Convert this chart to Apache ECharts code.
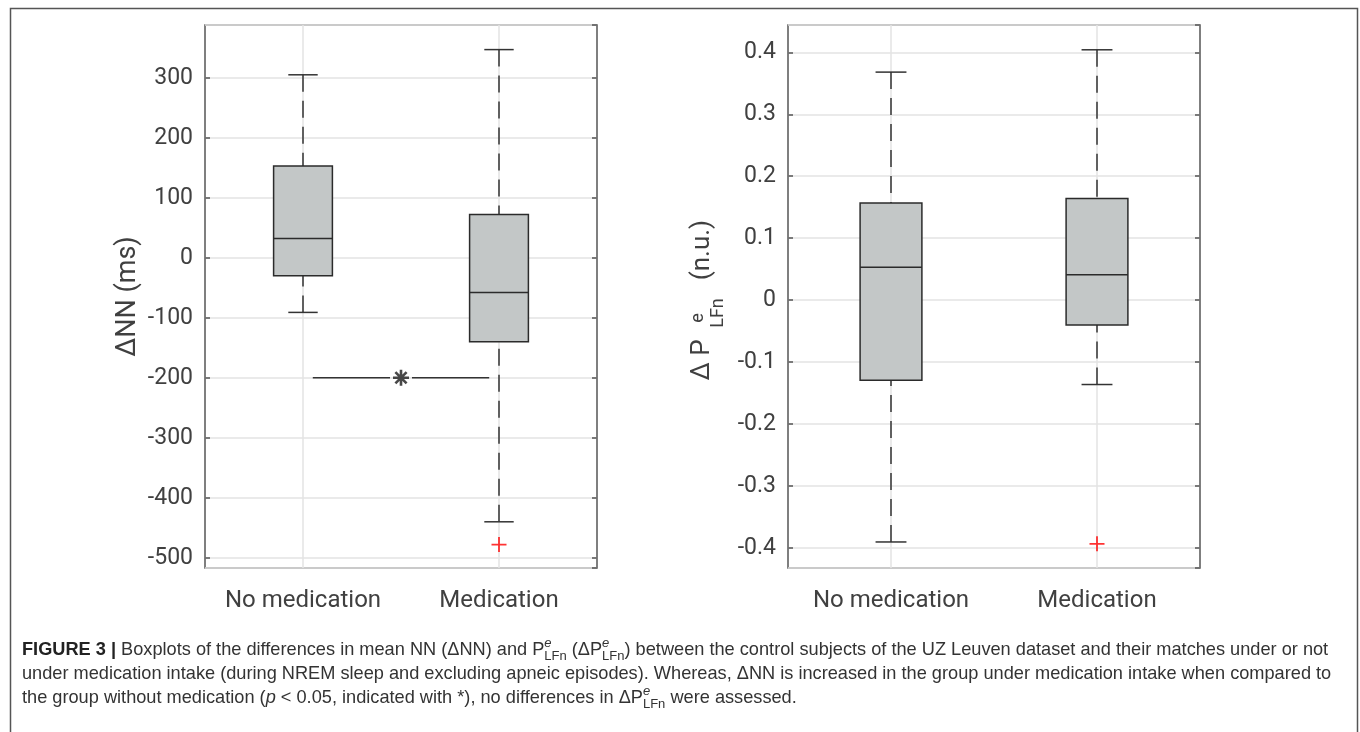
<!DOCTYPE html>
<html lang="en">
<head>
<meta charset="UTF-8">
<title>Figure 3 boxplots</title>
<script src="https://cdn.jsdelivr.net/npm/echarts@6/dist/echarts.min.js"></script>
<style>
  html, body { margin: 0; padding: 0; background: #fff; }
  #main { width: 1360px; height: 732px; }
</style>
</head>
<body>
<div id="main"></div>
<script>
var groups = ['No medication', 'Medication'];

// delta NN (ms)
var nnLow = [-91, -440];
var nnQ1 = [-30, -140];
var nnMedian = [32, -58];
var nnQ3 = [153, 72];
var nnHigh = [305, 347];
var nnOutliers = [[1, -478]];
var nnRange = [-517, 388];

// delta P LFn (n.u.)
var pLow = [-0.390, -0.136];
var pQ1 = [-0.129, -0.040];
var pMedian = [0.053, 0.041];
var pQ3 = [0.157, 0.164];
var pHigh = [0.368, 0.404];
var pOutliers = [[1, -0.393]];
var pRange = [-0.432, 0.444];

// significance bar (x in 1..2 group units) and star
var sigLevel = -200;
var sigSegments = [[1.05, 1.444], [1.556, 1.95]];
var sigStar = 1.5;

var textColor = '#404040';
var frameColor = '#555';
var font = 'Roboto';

function boxRows(low, q1, med, q3, high) {
  return groups.map(function (g, i) { return [i, low[i], q1[i], med[i], q3[i], high[i]]; });
}

function boxItem(params, api) {
  var x = api.value(0);
  var low = api.coord([x, api.value(1)]);
  var q1 = api.coord([x, api.value(2)]);
  var med = api.coord([x, api.value(3)]);
  var q3 = api.coord([x, api.value(4)]);
  var high = api.coord([x, api.value(5)]);
  var band = api.size([1, 0])[0];
  var half = band * 0.15, cap = band * 0.075, cx = med[0];
  var dash = { stroke: '#333', lineWidth: 1.5, lineDash: [17, 9] };
  var solid = { stroke: '#333', lineWidth: 1.5 };
  return {
    type: 'group',
    children: [
      { type: 'line', shape: { x1: cx, y1: high[1], x2: cx, y2: q3[1] }, style: dash },
      { type: 'line', shape: { x1: cx, y1: low[1], x2: cx, y2: q1[1] }, style: dash },
      { type: 'line', shape: { x1: cx - cap, y1: high[1], x2: cx + cap, y2: high[1] }, style: solid },
      { type: 'line', shape: { x1: cx - cap, y1: low[1], x2: cx + cap, y2: low[1] }, style: solid },
      { type: 'rect', shape: { x: cx - half, y: q3[1], width: half * 2, height: q1[1] - q3[1] },
        style: { fill: '#c3c7c7', stroke: '#2b2b2b', lineWidth: 1.5 } },
      { type: 'line', shape: { x1: cx - half, y1: med[1], x2: cx + half, y2: med[1] },
        style: { stroke: '#2b2b2b', lineWidth: 1.5 } }
    ]
  };
}

function catAxis(gridIndex) {
  return {
    type: 'category', gridIndex: gridIndex, data: groups,
    axisLine: { show: false },
    axisTick: { show: true, inside: true, length: 5, alignWithLabel: true, lineStyle: { color: frameColor, width: 1.5 } },
    axisLabel: { color: textColor, fontSize: 24, fontFamily: font, margin: 21, interval: 0, hideOverlap: false },
    splitLine: { show: true, alignWithLabel: true, lineStyle: { color: '#e3e3e3', width: 1.5 } }
  };
}

function valAxis(gridIndex, range, withLabels, name) {
  return {
    type: 'value', gridIndex: gridIndex, min: range[0], max: range[1], splitNumber: 9,
    position: withLabels ? 'left' : 'right',
    name: name || '', nameLocation: 'middle', nameRotate: 90, nameGap: 63,
    nameTextStyle: { color: textColor, fontSize: 27, fontFamily: font },
    axisLine: { show: false },
    axisTick: { show: true, inside: true, length: 5, lineStyle: { color: frameColor, width: 1.5 } },
    axisLabel: { show: withLabels, color: textColor, fontSize: 23, fontFamily: font, margin: 12,
      showMinLabel: false, showMaxLabel: false },
    splitLine: { show: withLabels, lineStyle: { color: '#e3e3e3', width: 1.5 } }
  };
}

var chart = echarts.init(document.getElementById('main'));

var capFont = 'Liberation Sans';
var capSize = 18.2;

var option = {
  animation: false,
  backgroundColor: '#fff',
  grid: [
    { left: 205, top: 25, width: 392, height: 543, show: true, borderColor: frameColor, borderWidth: 1.5 },
    { left: 788, top: 25, width: 412, height: 543, show: true, borderColor: frameColor, borderWidth: 1.5 }
  ],
  xAxis: [
    catAxis(0),
    catAxis(1),
    { type: 'value', gridIndex: 0, min: 0.5, max: 2.5, show: false }
  ],
  yAxis: [
    valAxis(0, nnRange, true, '\u0394NN (ms)'),
    valAxis(0, nnRange, false),
    valAxis(1, pRange, true),
    valAxis(1, pRange, false)
  ],
  series: [
    { type: 'custom', xAxisIndex: 0, yAxisIndex: 0, renderItem: boxItem, z: 3,
      encode: { x: 0, y: [1, 2, 3, 4, 5] }, data: boxRows(nnLow, nnQ1, nnMedian, nnQ3, nnHigh) },
    { type: 'custom', xAxisIndex: 1, yAxisIndex: 2, renderItem: boxItem, z: 3,
      encode: { x: 0, y: [1, 2, 3, 4, 5] }, data: boxRows(pLow, pQ1, pMedian, pQ3, pHigh) },
    { type: 'scatter', xAxisIndex: 0, yAxisIndex: 0, data: nnOutliers, z: 4,
      symbol: 'path://M0,-1L0,1M-1,0L1,0', symbolSize: 15,
      itemStyle: { color: '#ff0000', borderColor: '#ff0000', borderWidth: 1.8 } },
    { type: 'scatter', xAxisIndex: 1, yAxisIndex: 2, data: pOutliers, z: 4,
      symbol: 'path://M0,-1L0,1M-1,0L1,0', symbolSize: 15,
      itemStyle: { color: '#ff0000', borderColor: '#ff0000', borderWidth: 1.8 } }
  ].concat(sigSegments.map(function (seg) {
    return { type: 'line', xAxisIndex: 2, yAxisIndex: 0, z: 4, symbol: 'none',
      lineStyle: { color: '#333', width: 1.5 },
      data: [[seg[0], sigLevel], [seg[1], sigLevel]] };
  })).concat([
    { type: 'scatter', xAxisIndex: 2, yAxisIndex: 0, z: 5, data: [[sigStar, sigLevel]],
      symbol: 'path://M0,-6L0,6M-6,0L6,0M-4.2,-4.2L4.2,4.2M-4.2,4.2L4.2,-4.2', symbolSize: 16,
      itemStyle: { color: '#1a1a1a', borderColor: '#1a1a1a', borderWidth: 2.6 } }
  ]),
  graphic: [
    { type: 'rect', left: 8, top: 6, shape: { x: 0, y: 0, width: 1347, height: 740 },
      style: { fill: 'none', stroke: frameColor, lineWidth: 1.5 }, silent: true },
    // right y-axis label: delta P^e_LFn (n.u.)
    { type: 'text', x: 702, y: 360, rotation: Math.PI / 2,
      style: { text: '\u0394 P', fill: textColor, font: '26px ' + font, textAlign: 'center', textVerticalAlign: 'middle' } },
    { type: 'text', x: 698, y: 318, rotation: Math.PI / 2,
      style: { text: 'e', fill: textColor, font: '18px ' + font, textAlign: 'center', textVerticalAlign: 'middle' } },
    { type: 'text', x: 718, y: 313, rotation: Math.PI / 2,
      style: { text: 'LFn', fill: textColor, font: '18px ' + font, textAlign: 'center', textVerticalAlign: 'middle' } },
    { type: 'text', x: 702, y: 250, rotation: Math.PI / 2,
      style: { text: '(n.u.)', fill: textColor, font: '26px ' + font, textAlign: 'center', textVerticalAlign: 'middle' } }
  ].concat([
    '{b|FIGURE 3 |} Boxplots of the differences in mean NN (\u0394NN) and P{sup|e}{sub|LFn} (\u0394P{sup|e}{sub|LFn}) between the control subjects of the UZ Leuven dataset and their matches under or not',
    'under medication intake (during NREM sleep and excluding apneic episodes). Whereas, \u0394NN is increased in the group under medication intake when compared to',
    'the group without medication ({i|p} < 0.05, indicated with *), no differences in \u0394P{sup|e}{sub|LFn} were assessed.'
  ].map(function (line, i) {
    return {
      type: 'text', x: 22, y: 650 + i * 24,
      style: {
        text: line, fill: '#333', fontSize: capSize, fontFamily: capFont, lineHeight: 26,
        textVerticalAlign: 'middle',
        rich: {
          b: { fontWeight: 'bold', fontSize: capSize, fontFamily: capFont, fill: '#222', lineHeight: 26 },
          i: { fontStyle: 'italic', fontSize: capSize, fontFamily: capFont, lineHeight: 26 },
          sup: { fontStyle: 'italic', fontSize: 13, fontFamily: capFont, lineHeight: 15, verticalAlign: 'top', width: 0 },
          sub: { fontSize: 13, fontFamily: capFont, lineHeight: 15, verticalAlign: 'bottom' }
        }
      }
    };
  }))
};

chart.setOption(option);
</script>
</body>
</html>
